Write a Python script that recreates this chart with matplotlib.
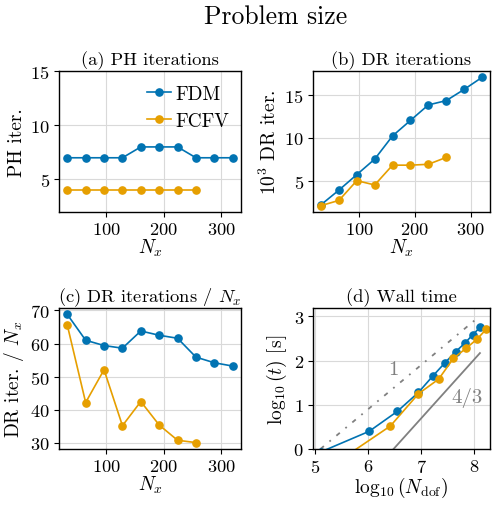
import matplotlib
matplotlib.use("Agg")
import matplotlib.pyplot as plt
import numpy as np

plt.rcParams['font.family'] = 'serif'
plt.rcParams['font.serif'] = ['cmr10', 'DejaVu Serif']
plt.rcParams['mathtext.fontset'] = 'cm'
plt.rcParams['axes.formatter.use_mathtext'] = True
plt.rcParams['axes.unicode_minus'] = False
plt.rcParams['font.size'] = 12

BLUE = '#0173B2'
ORANGE = '#E69F00'

nx_fdm = [32, 64, 96, 128, 160, 192, 224, 256, 288, 320]
nx_fcfv = [32, 64, 96, 128, 160, 192, 224, 256]

ph_fdm = [7, 7, 7, 7, 8, 8, 8, 7, 7, 7]
ph_fcfv = [4, 4, 4, 4, 4, 4, 4, 4]

dr_fdm = [2.2, 3.9, 5.7, 7.5, 10.2, 12.0, 13.8, 14.3, 15.6, 17.0]
dr_fcfv = [2.1, 2.7, 5.0, 4.5, 6.8, 6.8, 6.9, 7.7]

drn_fdm = [68.8, 61.0, 59.4, 58.6, 63.8, 62.5, 61.6, 55.9, 54.2, 53.2]
drn_fcfv = [65.6, 42.2, 52.1, 35.2, 42.5, 35.4, 30.8, 30.1]

logn_fdm = [5.12, 6.02, 6.55, 6.95, 7.22, 7.45, 7.65, 7.83, 7.97, 8.11]
logt_fdm = [-0.06, 0.40, 0.85, 1.28, 1.65, 1.95, 2.20, 2.40, 2.58, 2.75]
logn_fcfv = [5.52, 6.42, 6.95, 7.33, 7.61, 7.85, 8.05, 8.23]
logt_fcfv = [-0.21, 0.52, 1.25, 1.58, 2.05, 2.28, 2.48, 2.71]

ref1_x = [5.1, 8.1]
ref1_y = [0.0, 3.0]
ref43_x = [6.48, 8.11]
ref43_y = [0.0, 2.17]

fig = plt.figure(figsize=(5.0, 5.06), dpi=100)
W, H = 500, 506
def ax_at(l, t, r, b):
    return fig.add_axes([l / W, 1 - b / H, (r - l) / W, (b - t) / H])

axa = ax_at(59, 72, 241, 213)
axb = ax_at(313, 72, 490, 213)
axc = ax_at(59, 309, 241, 450)
axd = ax_at(313, 309, 490, 450)

kw = dict(marker='o', markersize=5.2, linewidth=1.2)
LS = 14
TS = 13.3

for ax in (axa, axb, axc, axd):
    ax.grid(True, color='#d9d9d9', linewidth=0.8)
    ax.set_axisbelow(True)
    ax.tick_params(direction='out', length=3.5, width=0.8, labelsize=13.3, pad=3)
    for s in ax.spines.values():
        s.set_linewidth(1.0)

axa.plot(nx_fdm, ph_fdm, color=BLUE, label='FDM', **kw)
axa.plot(nx_fcfv, ph_fcfv, color=ORANGE, label='FCFV', **kw)
axa.set_ylim(2, 15)
axa.set_yticks([5, 10, 15])
axa.set_xticks([100, 200, 300])
axa.set_title('(a) PH iterations', fontsize=TS, pad=5)
axa.set_ylabel('PH iter.', fontsize=LS, labelpad=3)
axa.set_xlabel(r'$N_x$', fontsize=LS, labelpad=0)
axa.legend(loc='center left', bbox_to_anchor=(0.485, 0.741), frameon=False,
           fontsize=LS, handlelength=1.2, handletextpad=0.25, borderpad=0,
           borderaxespad=0, labelspacing=0.45)

axb.plot(nx_fdm, dr_fdm, color=BLUE, **kw)
axb.plot(nx_fcfv, dr_fcfv, color=ORANGE, **kw)
axb.set_yticks([5, 10, 15])
axb.set_xticks([100, 200, 300])
axb.set_title('(b) DR iterations', fontsize=TS, pad=5)
axb.set_ylabel(r'$10^3$ DR iter.', fontsize=LS, labelpad=3)
axb.set_xlabel(r'$N_x$', fontsize=LS, labelpad=0)

axc.plot(nx_fdm, drn_fdm, color=BLUE, **kw)
axc.plot(nx_fcfv, drn_fcfv, color=ORANGE, **kw)
axc.set_yticks([30, 40, 50, 60, 70])
axc.set_xticks([100, 200, 300])
axc.set_title(r'(c) DR iterations / $N_x$', fontsize=TS, pad=5)
axc.set_ylabel(r'DR iter. / $N_x$', fontsize=LS, labelpad=3)
axc.set_xlabel(r'$N_x$', fontsize=LS, labelpad=0)

axd.plot(ref1_x, ref1_y, color='gray', linestyle=(0, (2.5, 4, 1, 4)), linewidth=1.3)
axd.plot(ref43_x, ref43_y, color='gray', linestyle='-', linewidth=1.3)
axd.plot(logn_fdm, logt_fdm, color=BLUE, **kw)
axd.plot(logn_fcfv, logt_fcfv, color=ORANGE, **kw)
axd.text(6.47, 1.81, '1', color='gray', fontsize=15, ha='center', va='center')
axd.text(7.87, 1.17, '4/3', color='gray', fontsize=15, ha='center', va='center')
axd.set_xlim(4.96, 8.30)
axd.set_ylim(0, 3.19)
axd.set_xticks([5, 6, 7, 8])
axd.set_yticks([0, 1, 2, 3])
axd.set_title('(d) Wall time', fontsize=TS, pad=5)
axd.set_ylabel(r'$\log_{10}(t)$ [s]', fontsize=LS, labelpad=3)
axd.set_xlabel(r'$\log_{10}(N_{\rm dof})$', fontsize=LS, labelpad=0)

fig.suptitle('Problem size', fontsize=18.5, x=0.552, y=0.99)

fig.savefig('out.png', dpi=100)
